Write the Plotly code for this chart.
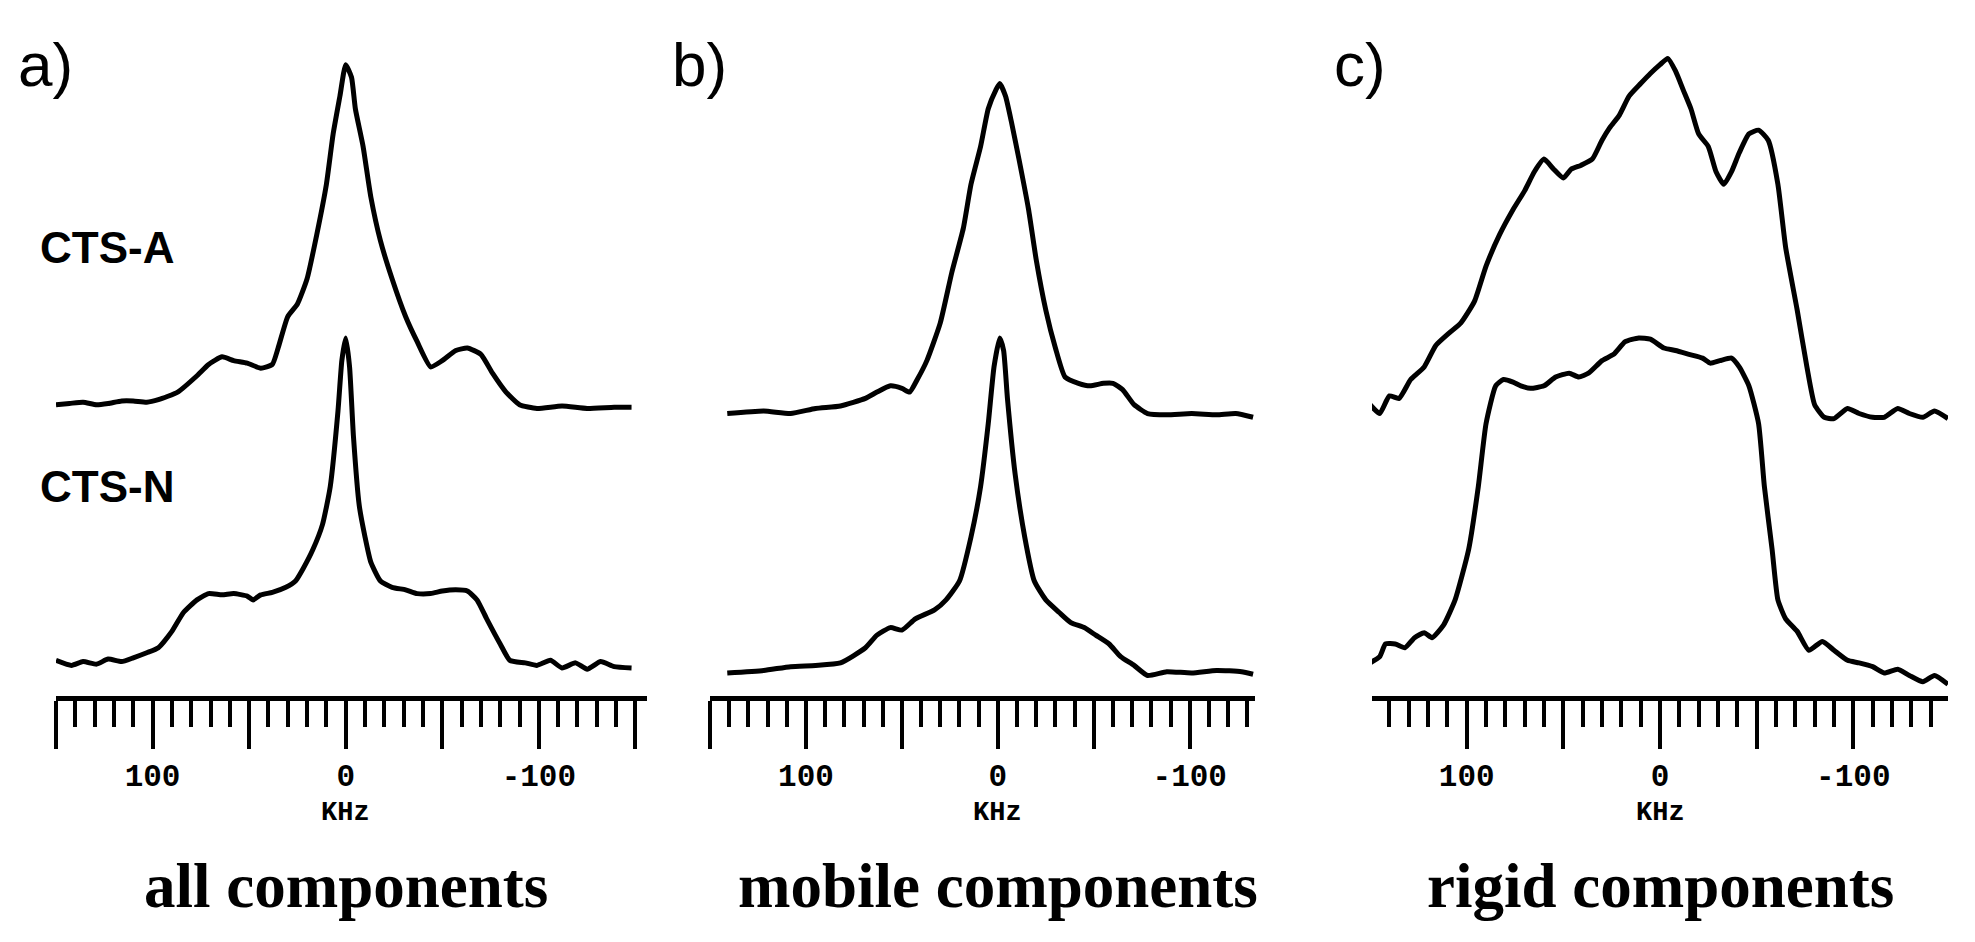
import plotly.graph_objects as go

# kHz positions and intensities (arbitrary units)
a_top_khz = [150, 143, 136, 129, 123, 116, 110, 103, 97, 87, 77, 71, 64, 58, 51, 44, 38, 35, 30, 25, 20, 15, 10, 6.5, 3, 0,
             -3, -5, -9, -13, -18, -24, -31, -37, -44, -50, -57, -63, -70, -76, -83, -90, -99, -112, -125, -139, -148]
a_top_int = [1, 2, 3, 1, 2, 4, 4, 3, 5, 11, 24, 33, 39, 36, 34, 30, 33, 46, 71, 81, 101, 136, 176, 216, 246, 271,
             261, 236, 206, 166, 131, 101, 71, 51, 31, 36, 44, 46, 41, 26, 11, 1, -2, 0, -2, -1, -1]

a_bot_khz = [150, 142, 136, 129, 123, 116, 110, 103, 97, 90, 84, 77, 71, 64, 58, 51, 48, 44, 38, 31, 26, 22, 17, 12, 8, 4, 2, 0,
             -2, -4, -7, -10, -13, -18, -24, -31, -37, -44, -50, -57, -63, -68, -73, -80, -85, -93, -99, -106, -112,
             -119, -125, -132, -139, -148]
a_bot_int = [4, 0, 3, 1, 5, 3, 6, 10, 14, 27, 42, 52, 57, 56, 57, 55, 52, 56, 58, 62, 67, 77, 92, 112, 142, 202, 242, 260,
             237, 182, 127, 102, 82, 67, 62, 60, 57, 57, 59, 60, 59, 52, 37, 17, 4, 2, 0, 4, -2, 2, -3, 3, -1, -2]

b_top_khz = [141, 122, 108, 95, 82, 69, 63, 56, 50, 46, 42, 37, 30, 24, 18, 14, 9, 5, 1, -1, -4, -7, -11, -16, -20, -25,
             -30, -35, -42, -48, -55, -60, -65, -71, -78, -88, -101, -114, -124, -133]
b_top_int = [0, 2, 0, 4, 6, 12, 17, 22, 20, 17, 27, 42, 72, 112, 147, 182, 212, 242, 257, 262, 252, 232, 202, 162, 122, 82,
             52, 29, 24, 22, 24, 24, 19, 7, 0, -1, 0, -1, 0, -3]

b_bot_khz = [141, 122, 108, 95, 82, 69, 63, 56, 50, 43, 33, 27, 20, 14, 9, 5, 2, -1, -3, -5, -9, -14, -19, -25, -32, -38,
             -45, -51, -58, -64, -71, -78, -88, -101, -114, -127, -133]
b_bot_int = [0, 2, 5, 6, 8, 20, 30, 36, 34, 43, 50, 58, 73, 108, 148, 198, 243, 266, 256, 218, 158, 108, 73, 58, 48, 40,
             36, 30, 23, 13, 6, -2, 1, 0, 2, 1, -1]

c_top_khz = [150, 145, 140, 135, 129, 122, 116, 109, 103, 96, 90, 83, 76, 70, 65, 60, 55, 50, 46, 41, 35, 30, 26, 21, 16,
             10, 5, 0, -4, -8, -12, -16, -20, -25, -29, -33, -37, -41, -46, -51, -56, -61, -65, -71, -76, -80, -85, -90,
             -97, -103, -110, -116, -123, -129, -136, -142, -149]
c_top_int = [10, 3, 17, 15, 30, 40, 57, 67, 75, 92, 120, 145, 165, 180, 195, 205, 197, 190, 197, 200, 205, 220, 230, 240,
             255, 265, 273, 280, 285, 275, 260, 245, 225, 215, 195, 185, 195, 210, 225, 228, 220, 185, 135, 85, 40, 10,
             0, -1, 7, 3, 0, 0, 7, 3, 0, 5, -1]

c_bot_khz = [150, 145, 142, 137, 132, 127, 122, 118, 112, 106, 99, 94, 90, 85, 81, 76, 72, 67, 60, 54, 47, 42, 37, 30, 24,
             18, 11, 5, -2, -8, -15, -22, -26, -31, -37, -41, -46, -51, -54, -58, -61, -65, -71, -77, -84, -90, -97,
             -103, -110, -116, -123, -129, -136, -142, -149]
c_bot_int = [8, 13, 23, 23, 20, 28, 32, 28, 38, 58, 98, 148, 198, 228, 233, 231, 228, 226, 228, 235, 238, 235, 238, 248,
             253, 263, 266, 265, 258, 256, 253, 250, 246, 248, 250, 243, 228, 198, 148, 98, 58, 43, 33, 18, 25, 18, 10,
             8, 5, 0, 3, -2, -7, -2, -9]

tick_vals = [150, 100, 50, 0, -50, -100, -150]
tick_text = ["", "<b>100</b>", "", "<b>0</b>", "", "<b>-100</b>", ""]
panel_letters = ["a)", "b)", "c)"]
panel_titles = ["all components", "mobile components", "rigid components"]
sample_names = ["CTS-A", "CTS-N"]

W, H = 1975, 942
panels = [
    # (top spectrum, bottom spectrum, x domain px, x range, baselines)
    ((a_top_khz, a_top_int), (a_bot_khz, a_bot_int), (48, 639), (150, -156), (432, 226)),
    ((b_top_khz, b_top_int), (b_bot_khz, b_bot_int), (702, 1247), (150, -134), (426, 220)),
    ((c_top_khz, c_top_int), (c_bot_khz, c_bot_int), (1364, 1940), (149, -149), (423, 220)),
]

fig = go.Figure()
axis_y = 1 - 548 / 748

for i, (top, bot, dom, rng, base) in enumerate(panels, start=1):
    xa = "x" if i == 1 else f"x{i}"
    ya = "y" if i == 1 else f"y{i}"
    for (kx, iy), off in ((top, base[0]), (bot, base[1])):
        fig.add_trace(go.Scatter(
            x=kx, y=[v + off for v in iy], xaxis=xa, yaxis=ya, mode="lines",
            line=dict(color="black", width=5, shape="spline", smoothing=0.5),
            showlegend=False, hoverinfo="skip"))
    xkey = "xaxis" if i == 1 else f"xaxis{i}"
    ykey = "yaxis" if i == 1 else f"yaxis{i}"
    fig.update_layout(**{
        xkey: dict(domain=[dom[0] / W, dom[1] / W], range=list(rng), anchor="free", position=axis_y,
                   showline=True, linecolor="black", linewidth=5, showgrid=False, zeroline=False,
                   tickmode="array", tickvals=tick_vals, ticktext=tick_text, ticks="outside",
                   ticklen=48, tickwidth=4, tickcolor="black",
                   tickfont=dict(family="Liberation Mono", size=31, color="black"),
                   minor=dict(dtick=10, ticks="outside", ticklen=26, tickwidth=4, tickcolor="black",
                              showgrid=False)),
        ykey: dict(domain=[0, 1], range=[0, 748], visible=False, anchor=xa),
    })
    zero_px = dom[0] + (rng[0] - 0) / (rng[0] - rng[1]) * (dom[1] - dom[0])
    fig.add_annotation(text="<b>KHz</b>", x=zero_px / W, y=1 - 639 / 748, xref="paper", yref="paper",
                       xanchor="center", yanchor="middle", showarrow=False,
                       font=dict(family="Liberation Mono", size=27, color="black"))
    fig.add_annotation(text=f"<b>{panel_titles[i - 1]}</b>", x=zero_px / W, y=1 - 697 / 748,
                       xref="paper", yref="paper", xanchor="center", yanchor="middle", showarrow=False,
                       font=dict(family="Liberation Serif", size=63, color="black"))
    fig.add_annotation(text=panel_letters[i - 1], x=(dom[0] - 40) / W, y=1 - 45 / 748, xref="paper",
                       yref="paper", xanchor="left", yanchor="middle", showarrow=False,
                       font=dict(family="Liberation Sans", size=62, color="black"))

for name, yy in zip(sample_names, (190, 380)):
    fig.add_annotation(text=f"<b>{name}</b>", x=30 / W, y=1 - yy / 748, xref="paper", yref="paper",
                       xanchor="left", yanchor="middle", showarrow=False,
                       font=dict(family="Liberation Sans", size=44, color="black"))

fig.update_layout(width=W, height=H, margin=dict(l=0, r=0, t=0, b=0),
                  plot_bgcolor="white", paper_bgcolor="white")

fig.write_html("out.html")
